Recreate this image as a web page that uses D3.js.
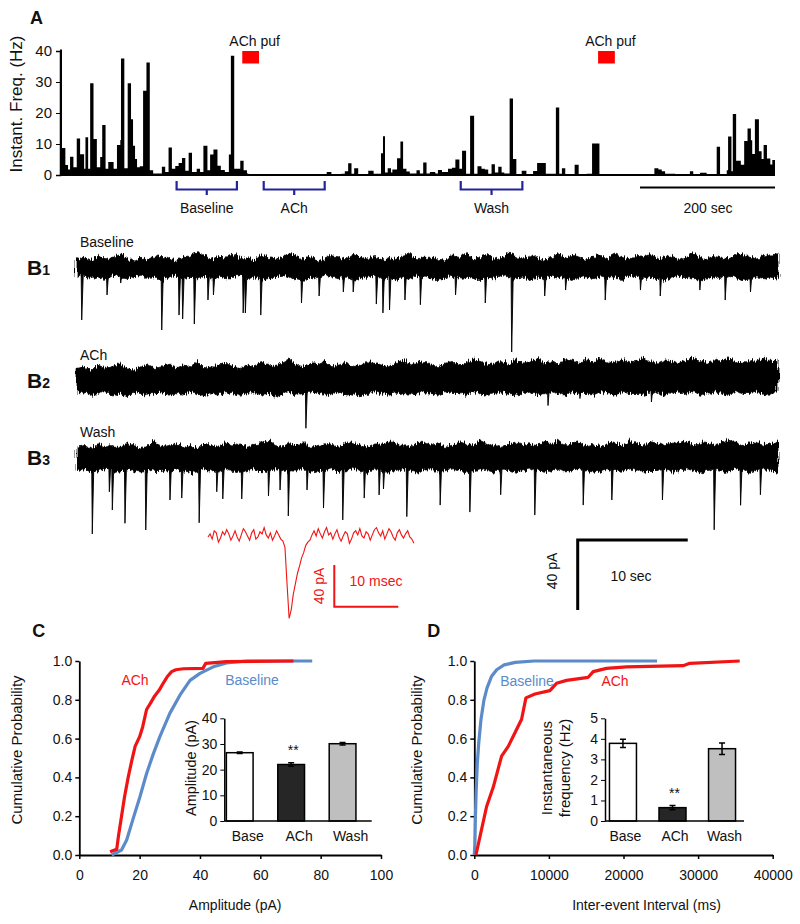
<!DOCTYPE html>
<html><head><meta charset="utf-8">
<script src="https://cdn.jsdelivr.net/npm/d3@7"></script>
<style>
body{margin:0;background:#fff;}
svg text{font-family:"Liberation Sans",Arial,sans-serif;fill:#111;}
</style></head><body>
<svg id="fig" width="800" height="924">
  <defs>
    <filter id="rough" x="-2%" y="-60%" width="104%" height="220%">
      <feTurbulence type="fractalNoise" baseFrequency="0.9 0.06" numOctaves="2" seed="3" result="n"/>
      <feDisplacementMap in="SourceGraphic" in2="n" scale="8" xChannelSelector="R" yChannelSelector="G"/>
    </filter>
  </defs>
</svg>
<script>
// ---------------- DATA ----------------
// Panel A: instantaneous frequency step trace (start time of step in s, value in Hz)
const freqTimes = [0,3,8,12,15,20,25,30,36,38,42,45,50,55,60,63,68,72,80,85,90,91,96,101,106,109,112,115,119,124,129,134,139,152,157,162,167,172,177,182,187,192,197,204,209,214,220,224,229,235,240,246,252,255,260,265,269,274,279,281,331,336,361,366,398,405,420,425,430,435,439,445,460,468,479,482,485,489,494,496,503,508,512,517,522,532,537,542,547,552,560,564,570,579,585,590,596,600,606,612,618,623,629,634,639,644,649,654,659,663,671,676,681,689,696,706,712,719,725,740,745,749,754,768,774,786,794,805,887,893,898,903,918,940,945,955,965,980,985,995,997,1002,1004,1009,1016,1021,1026,1031,1033,1037,1043,1047,1050,1055,1060,1063];
const freqValues = [40.5,8.7,3.2,1.8,5.9,2.5,11.8,6.7,2,12.2,2,29.6,11.6,2.5,5.8,16.1,2,4.2,2,9.7,11.3,37.6,2.2,29.6,18,9.4,5.2,2.5,2.8,27.2,36.3,1.5,0.5,2.7,1,8.9,2,2.9,3.9,5.5,1.4,7.2,1,2,1,9.4,1.5,6.6,8.2,3,1.6,1,6.6,38.5,2,2,4.6,1.5,0.5,0.15,0.3,0.15,0.3,0.15,1,0.15,0.4,1.2,3.8,0.4,2.2,0.3,1.4,0.4,7,12.5,0.8,2.2,0.8,1.8,5.4,10.8,2,1.1,0.5,1.5,0.5,4,0.5,1,0.5,1.6,1,2,2.3,5,2,7.8,0.4,19.1,0.4,2.8,2,1.8,0.4,3.5,0.8,2.7,0.8,0.5,24.7,5.2,0.3,1.4,0.3,1.3,3.9,3.9,0.4,21.8,0.4,2.2,0.3,3.3,0.3,0.4,10.2,0,2.2,1.8,1.2,0.4,0.3,1.2,0.3,0.7,0.3,9.1,0.3,1.5,12.4,1.2,19.7,4.6,3.3,11,15,11.2,6.8,18,7.7,5.2,9.7,5.3,3.4,4.8];
const freqEnd = 1067;
const freqTicks = [0,10,20,30,40];
const puffStarts = [272, 803];
const puffDur = 25;
const periodNames = ["Baseline","ACh","Wash"];
const periodStarts = [174, 304, 598];
const periodEnds = [264, 395, 690];
const scaleBarSec = 200;

// Panel B: sweep traces (noise envelope in pA, events: time s / amplitude pA)
const traceNames = ["Baseline","ACh","Wash"];
const b1Top = [6,7,5,8,6,7,9,6,5,7,6,8,7,6,5,7,8,10,7,6,8,7,9,6,7,5,8,7,6,7,9,8,6,7,5,6,8,7,6,9,7,6,8,5,7,6,8,9,6,7,7,6,5,8,7,9,6,7,8,6,7,10,7,6,8,7,5,7,9,6,8,7,6,7,8,6,9,7,6,8,7,9,6,7,8,6,7,9,7,6,8,7,6,8,9,7,6,8,7,9];
const b1Bot = [6,5,7,6,8,5,6,7,6,5,7,6,8,6,5,7,6,7,5,8,6,7,6,5,7,6,8,7,6,5,6,7,8,6,7,5,6,7,6,8,7,6,5,7,6,8,6,7,5,6,7,8,6,5,7,6,7,8,6,7,5,6,7,6,8,6,7,5,6,7,8,6,5,7,6,7,6,8,5,6,7,6,7,8,6,5,7,6,8,7,6,7,5,6,8,7,6,7,6,7];
const b1EvT = [0.43,2.73,3.97,7.7,9.27,9.6,10.66,11.9,12.4,15.1,15.3,16.7,20.4,22,24.2,25.1,27.2,27.8,28.4,29.8,31.2,34.4,37.1,39.5,42.5,44.4,48,51.2,53,56.6,58.9,61.2];
const b1EvA = [29.7,15.4,8.6,35.4,26.9,29.1,32,18.3,15.4,25.7,25.7,26.9,20,16,13.7,13.7,20.6,25.7,24,18.3,21,15.4,20,48,16,12.6,18.3,12.6,16,12.6,18.3,13.7];
const b2Top = [8,9,7,10,8,9,11,8,7,9,10,8,9,11,8,10,9,12,8,9,10,11,9,8,10,9,12,10,9,11,13,10,9,11,10,12,9,10,11,9,10,12,11,10,9,11,13,10,11,12,10,9,11,12,10,11,13,12,10,11,12,10,13,11,12,14,11,12,10,13,12,11,13,12,14,11,12,13,11,12,14,12,11,13,12,11,13,14,12,11,13,12,14,12,11,13,12,14,12,13];
const b2Bot = [8,7,9,8,7,9,8,10,7,8,9,8,7,9,8,9,7,8,10,8,9,7,8,9,8,7,9,8,10,8,7,9,8,7,8,9,8,7,9,8,10,8,7,8,9,7,8,9,8,7,8,9,7,8,8,9,7,8,9,8,7,8,9,8,7,9,8,7,8,9,7,8,8,9,7,8,9,7,8,8,9,7,8,9,8,7,8,7,9,8,7,8,9,7,8,8,7,9,8,7];
const b2EvT = [20.8,33,42.8,45.7,52.2];
const b2EvA = [27,8,14,10,12];
const b3Top = [7,8,6,9,7,8,7,9,8,6,8,10,7,8,9,7,8,6,9,8,7,10,8,9,7,8,9,11,8,7,9,8,10,7,8,9,8,7,10,9,8,7,9,8,11,9,8,7,9,10,8,9,7,8,10,9,8,11,9,8,7,9,10,8,9,8,10,9,11,8,9,10,8,9,7,10,9,8,11,9,8,10,9,8,10,9,11,8,9,10,8,9,11,10,8,9,10,8,9,10];
const b3Bot = [8,7,9,8,7,8,9,7,8,9,7,8,8,9,7,8,9,8,7,8,9,7,8,9,8,7,9,8,7,8,9,8,7,9,8,8,7,9,8,7,8,9,7,8,9,8,7,8,9,8,7,9,8,7,8,9,8,7,8,9,7,8,9,8,7,8,9,8,7,9,8,7,8,9,8,7,8,9,7,8,9,8,8,7,9,8,7,8,9,8,7,8,9,7,8,9,8,7,8,9];
const b3EvT = [1.39,2.94,3.21,4.36,6.25,8.45,9.52,11.1,12.7,13.25,14.97,17.4,18.45,19.2,20.9,22.4,24.15,26.1,27.45,27.85,29.97,33,35.7,38.5,41.6,46,48.6,53.2,57.9,60.3,62.1];
const b3EvA = [43.4,19.3,29.7,37.3,41.1,24,22.9,37,19.3,23.4,23.4,21.7,18.3,33.1,18.3,28.6,35.4,22.9,21.1,17.7,33.5,26.9,30.9,21,32.6,26.9,24,24,41,27,21];
const traceDur = 63.7;
// single averaged event (pA), sampled every 0.325 ms
const evSample = [0,3,-2,6,4,-5,-1,5,2,7,3,-3,1,6,0,-4,2,8,5,1,-3,4,7,-2,0,5,3,9,2,-1,4,-3,1,6,2,-2,-4,-10,-45,-78,-70,-55,-45,-35,-28,-20,-15,-8,-5,-3,2,6,1,8,3,-1,5,9,2,4,-2,3,7,0,-4,1,5,3,-6,-2,4,6,2,8,1,-1,5,3,-3,2,7,9,4,1,6,-2,3,8,5,0,-3,4,7,2,-1,3,6,0,-2,-6];
const evDt = 0.325;

// Panel C: cumulative amplitude distributions
const ampBaseX = [10.7,14,15.7,17.9,20.1,22.3,24.5,26.7,30,33.4,36.7,40,44.4,48.8,55.5,77.2];
const ampBaseP = [0,0.026,0.077,0.19,0.3,0.42,0.52,0.61,0.73,0.825,0.9,0.936,0.97,0.99,1,1];
const ampAchX = [10.2,12.4,13,14,15,16.2,17.3,18.5,20,21,22.3,23.5,25,26.5,27.8,29.2,30.6,32,34.5,41,41.9,48.8,71];
const ampAchP = [0.017,0.03,0.1,0.2,0.3,0.4,0.48,0.56,0.61,0.66,0.75,0.78,0.82,0.85,0.885,0.92,0.945,0.955,0.96,0.962,0.988,0.997,1];
const ampTicksX = [0,20,40,60,80,100];
const probTicks = [0,0.2,0.4,0.6,0.8,1.0];
const barCats = ["Base","ACh","Wash"];
const ampMean = [26.6,22,30.1];
const ampErr = [0.3,0.7,0.5];
const ampTicksY = [0,10,20,30,40];

// Panel D: cumulative inter-event interval distributions
const ieiBaseX = [0,80,150,250,400,600,900,1300,1700,2300,3000,4000,5500,8000,24500];
const ieiBaseP = [0,0.06,0.2,0.33,0.47,0.58,0.7,0.8,0.86,0.92,0.955,0.98,0.993,1,1];
const ieiAchX = [220,760,1650,2545,3660,4550,5450,6340,6920,8125,10130,11020,12370,15270,15940,17720,20400,27990,28880,35580];
const ieiAchP = [0,0.095,0.25,0.35,0.51,0.56,0.63,0.7,0.81,0.83,0.847,0.885,0.9,0.916,0.945,0.962,0.97,0.976,0.988,1];
const ieiTicksX = [0,10000,20000,30000,40000];
const freqMean = [3.78,0.65,3.52];
const freqErr = [0.2,0.1,0.28];
const freqTicksY = [0,1,2,3,4,5];

// ---------------- DRAWING ----------------
const svg = d3.select("#fig");
const RED = "#f01414", BLUE = "#5b8bc8", NAVY = "#24249a";
const FS = 14;

function label(x, y, txt, opts = {}) {
  const t = svg.append("text").attr("x", x).attr("y", y).text(txt)
    .attr("font-size", opts.size || FS)
    .attr("text-anchor", opts.anchor || "middle");
  if (opts.bold) t.attr("font-weight", "bold");
  if (opts.fill) t.style("fill", opts.fill);
  if (opts.rotate) t.attr("transform", `rotate(-90,${x},${y})`);
  return t;
}

// ----- Panel A -----
label(30, 24, "A", {size: 18, bold: true, anchor: "start"});
const ax = d3.scaleLinear().domain([0, freqEnd]).range([60, 775]);
const ay = d3.scaleLinear().domain([0, 40]).range([175, 51]);
const steps = freqTimes.map((t, i) => ({t, v: freqValues[i]}));
steps.push({t: freqEnd, v: freqValues[freqValues.length - 1]});
svg.append("path").datum(steps)
  .attr("d", d3.area().x(d => ax(d.t)).y0(ay(0)).y1(d => ay(d.v)).curve(d3.curveStepAfter))
  .attr("fill", "#000");
svg.append("line").attr("x1", 60).attr("x2", 775).attr("y1", ay(0)).attr("y2", ay(0))
  .attr("stroke", "#000").attr("stroke-width", 2);
const ayAxis = svg.append("g").attr("transform", "translate(60,0)")
  .call(d3.axisLeft(ay).tickValues(freqTicks).tickSize(4).tickFormat(d3.format("d")));
ayAxis.select(".domain").attr("stroke-width", 1.5);
ayAxis.selectAll("text").attr("font-size", 15).attr("font-family", "Liberation Sans, Arial").attr("dx", "-1");
label(22, 104, "Instant. Freq. (Hz)", {size: 17, rotate: true});
puffStarts.forEach(s => {
  svg.append("rect").attr("x", ax(s)).attr("width", ax(s + puffDur) - ax(s))
    .attr("y", 51).attr("height", 12.5).attr("fill", "#ff0000");
  label((ax(s) + ax(s + puffDur)) / 2 + 4, 46, "ACh puf", {size: 14});
});
periodNames.forEach((n, i) => {
  const x0 = ax(periodStarts[i]), x1 = ax(periodEnds[i]), xm = (x0 + x1) / 2;
  svg.append("path").attr("d", `M${x0},181 L${x0},189.5 L${x1},189.5 L${x1},181 M${xm},189.5 L${xm},195`)
    .attr("fill", "none").attr("stroke", NAVY).attr("stroke-width", 2.2);
  label(xm, 213, n, {size: 14});
});
svg.append("line").attr("x1", ax(freqEnd - scaleBarSec) - 1).attr("x2", ax(freqEnd)).attr("y1", 187.5).attr("y2", 187.5)
  .attr("stroke", "#000").attr("stroke-width", 2);
label((ax(freqEnd - scaleBarSec) + ax(freqEnd)) / 2, 213, scaleBarSec + " sec", {size: 14});

// ----- Panel B -----
const tx = d3.scaleLinear().domain([0, traceDur]).range([77, 778]);
const pa = d3.scaleLinear().domain([0, 40]).range([0, 70]);
const traces = [
  {top: b1Top, bot: b1Bot, evT: b1EvT, evA: b1EvA, yc: 268, sub: "1"},
  {top: b2Top, bot: b2Bot, evT: b2EvT, evA: b2EvA, yc: 381, sub: "2"},
  {top: b3Top, bot: b3Bot, evT: b3EvT, evA: b3EvA, yc: 458, sub: "3"}
];
traces.forEach((tr, k) => {
  const n = tr.top.length;
  const pts = tr.top.map((v, i) => ({t: traceDur * i / (n - 1), top: v, bot: tr.bot[i]}));
  svg.append("path").datum(pts)
    .attr("d", d3.area().x(d => tx(d.t)).y0(d => tr.yc + pa(d.bot) - 1.5).y1(d => tr.yc - pa(d.top) + 1.5))
    .attr("fill", "#000").attr("stroke", "#000").attr("stroke-width", 0.8)
    .attr("filter", "url(#rough)");
  tr.evT.forEach((t, i) => {
    const x = tx(t), yb = tr.yc + 4, yp = tr.yc + pa(tr.evA[i]);
    svg.append("path").attr("d", `M${x - 0.6},${yb} L${x},${yp} L${x + 1.6},${yb} Z`)
      .attr("fill", "#000").attr("stroke", "#000").attr("stroke-width", 0.9);
  });
  const t = svg.append("text").attr("x", 27).attr("y", tr.yc + 7).attr("font-weight", "bold").attr("font-size", 21).text("B");
  t.append("tspan").attr("font-size", 14).text(tr.sub);
  label(80, tr.yc - 21, traceNames[k], {size: 14, anchor: "start"});
});
// scale bar for sweeps
svg.append("path").attr("d", `M${tx(0) + 500.7},${610} L${tx(0) + 500.7},${610 - pa(40)} L${tx(0) + 500.7 + (tx(10) - tx(0))},${610 - pa(40)}`)
  .attr("fill", "none").attr("stroke", "#000").attr("stroke-width", 3);
label(557, 571, "40 pA", {size: 14, rotate: true});
label(631, 581, "10 sec", {size: 14});
// averaged event
const ex = d3.scaleLinear().domain([0, 10]).range([0, 64]);
const ey = d3.scaleLinear().domain([0, 40]).range([0, 41.7]);
svg.append("path").datum(evSample)
  .attr("d", d3.line().x((d, i) => 208 + ex(i * evDt)).y(d => 537 - ey(d)))
  .attr("fill", "none").attr("stroke", RED).attr("stroke-width", 1.1);
svg.append("path").attr("d", `M334.3,${606.7 - ey(40)} L334.3,606.7 L${334.3 + ex(10)},606.7`)
  .attr("fill", "none").attr("stroke", RED).attr("stroke-width", 2);
label(324, 586, "40 pA", {size: 14, rotate: true, fill: RED});
label(376, 586, "10 msec", {size: 14, fill: RED});

// ----- Panels C, D -----
function cumPanel(cfg) {
  const x = d3.scaleLinear().domain(cfg.xdom).range([cfg.x0, cfg.x1]);
  const y = d3.scaleLinear().domain([0, 1]).range([855, 661]);
  label(cfg.x0 - 47, 637, cfg.letter, {size: 18, bold: true, anchor: "start"});
  const gx = svg.append("g").attr("transform", "translate(0,855)")
    .call(d3.axisBottom(x).tickValues(cfg.xticks).tickSize(4).tickSizeOuter(0).tickFormat(d3.format("d")));
  gx.selectAll("text").attr("font-size", 14).attr("dy", "1.3em");
  gx.select(".domain").attr("stroke-width", 1.8);
  gx.selectAll(".tick line").attr("stroke-width", 1.5);
  const gy = svg.append("g").attr("transform", `translate(${cfg.x0},0)`)
    .call(d3.axisLeft(y).tickValues(probTicks).tickSize(4).tickSizeOuter(0).tickFormat(d3.format(".1f")));
  gy.selectAll("text").attr("font-size", 14);
  gy.select(".domain").attr("stroke-width", 1.8);
  gy.selectAll(".tick line").attr("stroke-width", 1.5);
  svg.selectAll(".tick text").attr("font-family", "Liberation Sans, Arial");
  label(cfg.ylabX, 750, "Cumulative Probability", {size: 15, rotate: true});
  label((cfg.x0 + cfg.x1) / 2 + cfg.xlabShift, 910, cfg.xlab, {size: 14});
  const line = d3.line().x(d => x(d[0])).y(d => y(d[1]));
  cfg.curves.forEach(c => {
    svg.append("path").datum(c.xs.map((v, i) => [v, c.ps[i]]))
      .attr("d", line).attr("fill", "none").attr("stroke", c.color).attr("stroke-width", 3.2)
      .attr("stroke-linejoin", "round");
  });
  cfg.texts.forEach(t => label(t[0], t[1], t[2], {size: 14, fill: t[3]}));
  // inset
  const ix = d3.scaleBand().domain(barCats).range([cfg.ix0, cfg.bandEnd]).paddingInner(cfg.pin).paddingOuter(cfg.pout);
  const iy = d3.scaleLinear().domain(cfg.idom).range([821, 718.3]);
  const fills = ["#ffffff", "#262626", "#bfbfbf"];
  barCats.forEach((c, i) => {
    svg.append("rect").attr("x", ix(c)).attr("width", ix.bandwidth())
      .attr("y", iy(cfg.means[i])).attr("height", iy(0) - iy(cfg.means[i]))
      .attr("fill", fills[i]).attr("stroke", "#000").attr("stroke-width", 1.5);
    const xm = ix(c) + ix.bandwidth() / 2;
    const e0 = iy(cfg.means[i] - cfg.errs[i]), e1 = iy(cfg.means[i] + cfg.errs[i]);
    svg.append("path").attr("d", `M${xm},${e0} L${xm},${e1} M${xm - 3},${e0} L${xm + 3},${e0} M${xm - 3},${e1} L${xm + 3},${e1}`)
      .attr("stroke", "#000").attr("stroke-width", 1.5).attr("fill", "none");
    label(xm + cfg.labShift, 841, c, {size: 14});
  });
  svg.append("line").attr("x1", cfg.ix0).attr("x2", cfg.ix1).attr("y1", 821).attr("y2", 821)
    .attr("stroke", "#000").attr("stroke-width", 1.5);
  const giy = svg.append("g").attr("transform", `translate(${cfg.ix0},0)`)
    .call(d3.axisLeft(iy).tickValues(cfg.iticks).tickSize(4).tickSizeOuter(0).tickFormat(d3.format("d")));
  giy.selectAll("text").attr("font-size", 14).attr("font-family", "Liberation Sans, Arial");
  giy.select(".domain").attr("stroke-width", 1.5);
  const xa = ix(barCats[1]) + ix.bandwidth() / 2;
  label(xa + 2, iy(cfg.means[1] + cfg.errs[1]) - 8, "**", {size: 14});
  cfg.ylab.forEach((l, j) => label(cfg.ylabInX + j * 18, 768, l, {size: cfg.ylabSize, rotate: true}));
}

cumPanel({
  letter: "C", xdom: [0, 100], x0: 79.3, x1: 381, xticks: ampTicksX, ylabX: 22,
  xlab: "Amplitude (pA)", xlabShift: 5,
  curves: [{xs: ampBaseX, ps: ampBaseP, color: BLUE}, {xs: ampAchX, ps: ampAchP, color: RED}],
  texts: [[135, 685, "ACh", RED], [252, 685, "Baseline", BLUE]],
  ix0: 224.3, ix1: 371.7, bandEnd: 358, pin: 0.48, pout: 0.04, labShift: 8,
  idom: [0, 40], iticks: ampTicksY, means: ampMean, errs: ampErr,
  ylab: ["Amplitude (pA)"], ylabInX: 196, ylabSize: 14.5
});
cumPanel({
  letter: "D", xdom: [0, 40000], x0: 474.3, x1: 772.7, xticks: ieiTicksX, ylabX: 422,
  xlab: "Inter-event Interval (ms)", xlabShift: 23,
  curves: [{xs: ieiBaseX, ps: ieiBaseP, color: BLUE}, {xs: ieiAchX, ps: ieiAchP, color: RED}],
  texts: [[527, 686, "Baseline", BLUE], [615, 686, "ACh", RED]],
  ix0: 605, ix1: 744, bandEnd: 740, pin: 0.455, pout: 0.09, labShift: 2.5,
  idom: [0, 5], iticks: freqTicksY, means: freqMean, errs: freqErr,
  ylab: ["Instantaneous", "frequency (Hz)"], ylabInX: 552, ylabSize: 15
});
</script>
</body></html>
